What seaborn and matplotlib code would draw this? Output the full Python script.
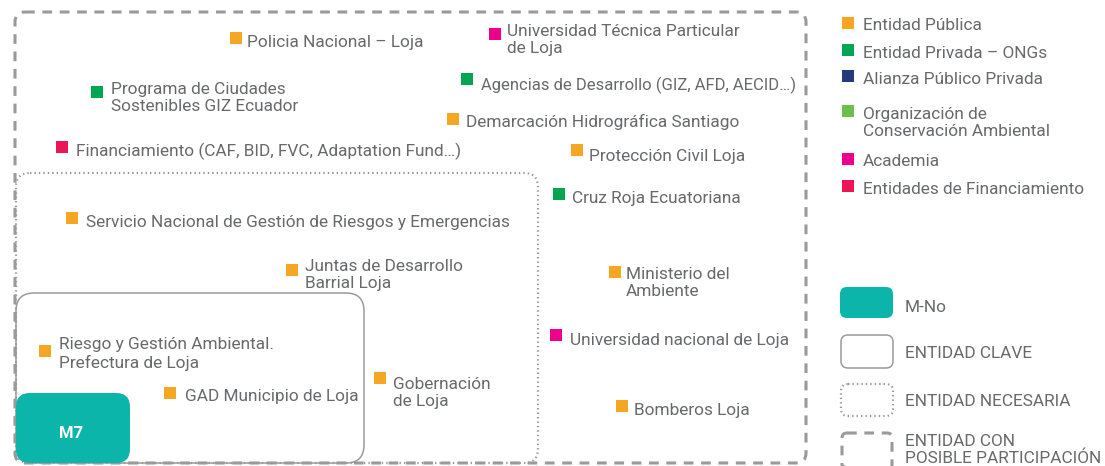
import matplotlib
matplotlib.use("Agg")
import matplotlib.pyplot as plt
import seaborn as sns
import pandas as pd
from matplotlib.patches import FancyBboxPatch

sns.set_theme(style="white")
plt.rcParams['font.family'] = ['Roboto', 'DejaVu Sans']
plt.rcParams['lines.scale_dashes'] = False

# ---- data ----
entities = [
    "Policia Nacional – Loja",
    "Universidad Técnica Particular\nde Loja",
    "Programa de Ciudades\nSostenibles GIZ Ecuador",
    "Agencias de Desarrollo (GIZ, AFD, AECID…)",
    "Demarcación Hidrográfica Santiago",
    "Financiamiento (CAF, BID, FVC, Adaptation Fund…)",
    "Protección Civil Loja",
    "Cruz Roja Ecuatoriana",
    "Servicio Nacional de Gestión de Riesgos y Emergencias",
    "Juntas de Desarrollo\nBarrial Loja",
    "Ministerio del\nAmbiente",
    "Universidad nacional de Loja",
    "Riesgo y Gestión Ambiental.\nPrefectura de Loja",
    "Gobernación\nde Loja",
    "GAD Municipio de Loja",
    "Bomberos Loja",
]
entity_type = [
    "Entidad Pública", "Academia", "Entidad Privada – ONGs", "Entidad Privada – ONGs",
    "Entidad Pública", "Entidades de Financiamiento", "Entidad Pública",
    "Entidad Privada – ONGs", "Entidad Pública", "Entidad Pública", "Entidad Pública",
    "Academia", "Entidad Pública", "Entidad Pública", "Entidad Pública", "Entidad Pública",
]
entity_x = [236, 495, 97, 467, 453, 62, 577, 559, 72, 292, 615, 556, 45, 380, 170, 622]
entity_y = [38, 34, 92, 79, 119, 147, 150, 194, 218, 270, 272, 335, 351, 378, 393, 406]
label_dx = [11, 12, 14, 14, 13, 14, 12, 13, 14, 13, 11, 14, 14, 13, 15, 12]
label_dy = [5, 6, 6, 6, 3, 4, 6, 5, 5, 5, 11, 5, 3, 15, 3, 5]
label_fs = [12.4, 12.4, 12.4, 12.0, 12.4, 12.4, 12.4, 12.4,
            12.4, 12.4, 12.4, 12.4, 12.4, 12.4, 12.4, 12.4]

categories = ["Entidad Pública", "Entidad Privada – ONGs", "Alianza Público Privada",
              "Organización de\nConservación Ambiental", "Academia",
              "Entidades de Financiamiento"]
category_keys = ["Entidad Pública", "Entidad Privada – ONGs", "Alianza Público Privada",
                 "Organización de Conservación Ambiental", "Academia",
                 "Entidades de Financiamiento"]
category_colors = ["#F5A623", "#00A651", "#253A7A", "#6DBE4B", "#EC008C", "#ED1556"]
legend_y = [23, 50, 76, 111, 159, 186]

box_labels = ["M-No", "ENTIDAD CLAVE", "ENTIDAD NECESARIA", "ENTIDAD CON\nPOSIBLE PARTICIPACIÓN"]

TEXT = "#68696b"
GRAY = "#9a9a9c"
TEAL = "#0BB5A9"
FS = 12.4
LS = 1.22

fig = plt.figure(figsize=(11.05, 4.66), dpi=100)
ax = fig.add_axes([0, 0, 1, 1])
ax.set_xlim(0, 1105)
ax.set_ylim(466, 0)
ax.axis("off")


def rbox(x0, y0, x1, y1, r, **kw):
    p = FancyBboxPatch((x0, y0), x1 - x0, y1 - y0,
                       boxstyle=f"round,pad=0,rounding_size={r}", **kw)
    ax.add_patch(p)
    return p


DASH = (0, (7, 5.5))
DOT = (0, (1.0, 2.2))

# main boxes
rbox(15, 12, 806, 463, 10, fill=False, edgecolor=GRAY, lw=2.2, linestyle=DASH)
rbox(16, 173, 538, 463, 14, fill=False, edgecolor=GRAY, lw=1.6, linestyle=DOT)
rbox(16, 293, 364, 463, 18, fill=False, edgecolor=GRAY, lw=1.1)
rbox(16, 393, 130, 463, 14, facecolor=TEAL, edgecolor="none")
ax.text(71, 433, "M7", color="white", fontsize=12, fontweight="bold",
        ha="center", va="center")

# entity squares
df = pd.DataFrame({"x": entity_x, "y": entity_y, "tipo": entity_type})
palette = dict(zip(category_keys, category_colors))
sns.scatterplot(data=df, x="x", y="y", hue="tipo", palette=palette, marker="s",
                s=82, linewidth=0, legend=False, ax=ax, zorder=3)
for name, x, y, dx, dy, fs in zip(entities, entity_x, entity_y, label_dx, label_dy, label_fs):
    ax.text(x + dx, y + dy, name, color=TEXT, fontsize=fs,
            ha="left", va="center", linespacing=LS)

# category legend
ldf = pd.DataFrame({"x": [848] * len(category_keys), "y": legend_y, "tipo": category_keys})
sns.scatterplot(data=ldf, x="x", y="y", hue="tipo", palette=palette, marker="s",
                s=82, linewidth=0, legend=False, ax=ax, zorder=3)
for lab, y in zip(categories, legend_y):
    dy = 12 if "\n" in lab else 3
    ax.text(863, y + dy, lab, color=TEXT, fontsize=FS,
            ha="left", va="center", linespacing=LS)

# box legend
rbox(840, 287, 893, 318, 7, facecolor=TEAL, edgecolor="none")
rbox(841, 335, 893, 368, 7, fill=False, edgecolor=GRAY, lw=1.1)
rbox(841, 384, 893, 416, 7, fill=False, edgecolor=GRAY, lw=1.6, linestyle=DOT)
rbox(842, 433, 892, 470, 5, fill=False, edgecolor=GRAY, lw=2.2, linestyle=DASH)
box_y = [308, 353, 402, 450]
for lab, y in zip(box_labels, box_y):
    ax.text(905, y, lab, color=TEXT, fontsize=FS,
            ha="left", va="center", linespacing=1.15)

fig.savefig("out.png", dpi=100)
